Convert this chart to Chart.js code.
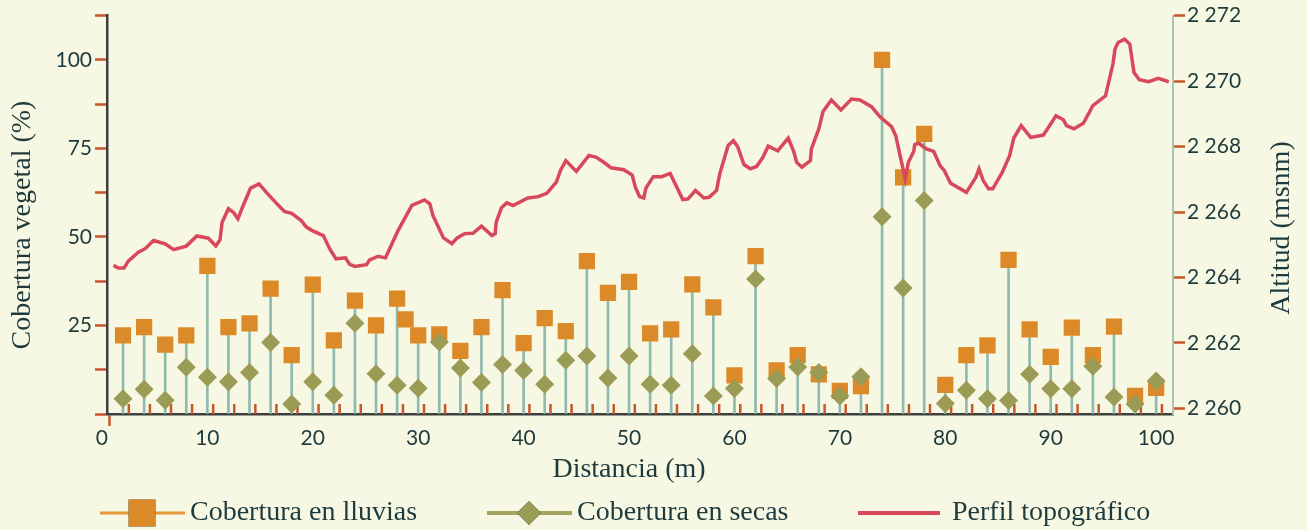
<!DOCTYPE html>
<html lang="es">
<head>
<meta charset="utf-8">
<title>Cobertura vegetal y perfil topográfico</title>
<script src="https://cdn.jsdelivr.net/npm/chart.js@4.4.1/dist/chart.umd.min.js"></script>
<style>
  html, body { margin: 0; padding: 0; background: #f7f8e3; }
  #wrap { width: 1307px; height: 530px; }
</style>
</head>
<body>
<div id="wrap"><canvas id="perfilChart" width="1307" height="530"></canvas></div>
<script>
// distancia (m) de cada punto de muestreo
const distancia = [2, 4, 6, 8, 10, 12, 14, 16, 18, 20, 22, 24, 26, 28, 30, 32, 34, 36, 38, 40,
  42, 44, 46, 48, 50, 52, 54, 56, 58, 60, 62, 64, 66, 68, 70, 72, 74, 76, 78, 80,
  82, 84, 86, 88, 90, 92, 94, 96, 98, 100];

// cobertura vegetal (%)
const coberturaLluvias = [22.2, 24.5, 19.6, 22.2, 41.8, 24.5, 25.6, 35.4, 16.6, 36.5,
  20.8, 32.0, 25.0, 32.6, 22.2, 22.5, 17.8, 24.5, 35.0, 20.0,
  27.1, 23.4, 43.2, 34.2, 37.3, 22.8, 23.9, 36.6, 30.1, 10.9,
  44.6, 12.3, 16.6, 11.2, 6.5, 7.9, 100.0, 66.8, 79.1, 8.2,
  16.6, 19.4, 43.5, 23.9, 16.1, 24.4, 16.6, 24.7, 5.1, 7.4];
const coberturaSecas = [4.3, 7.0, 3.9, 13.2, 10.4, 9.1, 11.7, 20.2, 2.8, 9.1,
  5.3, 25.6, 11.4, 8.1, 7.3, 20.3, 13.0, 8.9, 14.0, 12.3,
  8.4, 15.2, 16.4, 10.2, 16.4, 8.4, 8.1, 17.0, 5.1, 7.2,
  38.1, 10.0, 13.3, 11.7, 5.1, 10.5, 55.7, 35.6, 60.3, 3.0,
  6.7, 4.3, 3.8, 11.2, 7.1, 7.1, 13.5, 4.8, 2.8, 9.3];

// lectura suelta en lluvias, sin tallo
const extraDistancia = [28.8];
const extraLluvias = [26.7];

// perfil topográfico: distancia (m) y altitud (msnm)
const perfilDistancia = [1.1, 1.55, 2.1, 2.5, 3.45, 4.1, 4.9, 6.0, 6.8, 8.0,
  9.0, 10.1, 10.8, 11.2, 11.4, 12.0, 12.5, 12.9, 13.4, 14.1,
  14.9, 15.6, 16.6, 17.3, 18.0, 18.9, 19.4, 19.9, 21.0, 21.6,
  22.2, 23.1, 23.5, 24.0, 25.1, 25.4, 26.2, 26.9, 28.1, 29.4,
  30.6, 31.1, 31.4, 32.4, 33.2, 33.7, 34.4, 35.2, 36.0, 37.0,
  37.3, 37.4, 37.9, 38.4, 39.0, 40.4, 41.4, 42.2, 43.1, 43.5,
  44.0, 45.0, 46.2, 46.9, 47.6, 48.3, 49.5, 50.3, 50.6, 51.0,
  51.4, 51.6, 52.3, 53.1, 53.9, 54.5, 55.1, 55.6, 56.3, 57.1,
  57.6, 58.3, 58.6, 59.4, 59.9, 60.3, 60.9, 61.5, 62.1, 62.7,
  63.2, 64.1, 65.1, 65.6, 65.9, 66.4, 67.2, 67.3, 68.0, 68.4,
  69.2, 70.1, 71.1, 71.9, 73.0, 73.8, 74.9, 75.3, 76.2, 76.5,
  77.0, 77.1, 77.5, 78.2, 78.9, 79.5, 79.9, 80.5, 82.0, 82.9,
  83.2, 83.6, 84.1, 84.5, 85.4, 86.1, 86.5, 87.2, 88.1, 89.3,
  90.5, 91.2, 91.5, 92.2, 93.1, 94.0, 95.2, 95.9, 96.1, 96.4,
  97.0, 97.5, 97.9, 98.4, 99.3, 100.2, 101.2];
const perfilAltitud = [2264.37, 2264.29, 2264.29, 2264.50, 2264.77, 2264.88, 2265.13, 2265.03, 2264.85, 2264.96,
  2265.27, 2265.20, 2264.96, 2265.15, 2265.69, 2266.10, 2265.98, 2265.79, 2266.20, 2266.73,
  2266.86, 2266.60, 2266.25, 2266.02, 2265.96, 2265.74, 2265.54, 2265.44, 2265.28, 2264.88,
  2264.57, 2264.60, 2264.40, 2264.34, 2264.39, 2264.54, 2264.65, 2264.60, 2265.44, 2266.20,
  2266.37, 2266.25, 2265.89, 2265.21, 2265.03, 2265.21, 2265.34, 2265.35, 2265.57, 2265.28,
  2265.34, 2265.69, 2266.13, 2266.28, 2266.20, 2266.43, 2266.47, 2266.57, 2266.91, 2267.27,
  2267.57, 2267.24, 2267.73, 2267.67, 2267.52, 2267.35, 2267.29, 2267.13, 2266.76, 2266.47,
  2266.43, 2266.73, 2267.08, 2267.08, 2267.18, 2266.78, 2266.38, 2266.40, 2266.66, 2266.43,
  2266.45, 2266.66, 2267.16, 2268.03, 2268.18, 2268.00, 2267.45, 2267.32, 2267.39, 2267.67,
  2268.01, 2267.87, 2268.26, 2267.87, 2267.52, 2267.37, 2267.57, 2267.93, 2268.54, 2269.07,
  2269.42, 2269.12, 2269.45, 2269.42, 2269.22, 2268.91, 2268.61, 2268.33, 2267.01, 2267.52,
  2267.85, 2268.06, 2268.10, 2267.93, 2267.85, 2267.42, 2267.27, 2266.88, 2266.60, 2267.06,
  2267.32, 2266.96, 2266.71, 2266.71, 2267.21, 2267.72, 2268.26, 2268.64, 2268.28, 2268.35,
  2268.94, 2268.82, 2268.64, 2268.54, 2268.71, 2269.25, 2269.55, 2270.52, 2270.98, 2271.18,
  2271.28, 2271.13, 2270.26, 2270.04, 2269.98, 2270.08, 2269.98];

// etiquetas de los ejes
const distanciaTicks = [0, 10, 20, 30, 40, 50, 60, 70, 80, 90, 100];
const coberturaTicks = [25, 50, 75, 100];
const altitudTicks = [2260, 2262, 2264, 2266, 2268, 2270, 2272];

const COLORS = {
  texto: '#1e3a3d',
  naranja: '#dc8a28',
  naranjaLinea: '#e8983c',
  oliva: '#9a9b55',
  olivaLinea: '#a4a560',
  rojo: '#d8485a',
  tallo: '#8fbaae',
  marca: '#c6562b',
  ejeOscuro: '#3c3f3d',
  ejeClaro: '#a3c6bb'
};
const tickFont = { family: 'Lato', size: 21 };
const titleFont = '28px "Liberation Serif"';

const xMin = 0.48;
const xMax = 101.6;
// small inner tick marks along the distance axis
const marcasDistancia = [];
for (let d = 2.55; d < 101; d += 2) marcasDistancia.push(d);

const tallos = distancia.map((d, i) => ({ x: d, y: Math.max(coberturaLluvias[i], coberturaSecas[i]) }));
const puntosLluvias = distancia.map((d, i) => ({ x: d, y: coberturaLluvias[i] }))
  .concat(extraDistancia.map((d, i) => ({ x: d, y: extraLluvias[i] })));
const miles = v => String(v).replace(/\B(?=(\d{3})+(?!\d))/g, ' ');

const decoraciones = {
  id: 'decoraciones',
  beforeDatasetsDraw(chart) {
    const { ctx, chartArea, scales: { x } } = chart;
    ctx.save();
    ctx.strokeStyle = COLORS.marca;
    ctx.lineWidth = 2.5;
    marcasDistancia.forEach(v => {
      const px = x.getPixelForValue(v);
      ctx.beginPath();
      ctx.moveTo(px, chartArea.bottom);
      ctx.lineTo(px, chartArea.bottom - 10);
      ctx.stroke();
    });
    ctx.restore();
  },
  afterDraw(chart) {
    const { ctx } = chart;
    ctx.save();
    ctx.fillStyle = COLORS.texto;
    ctx.font = titleFont;
    ctx.textBaseline = 'middle';
    ctx.textAlign = 'center';

    // axis titles
    ctx.fillText('Distancia (m)', 629, 470);
    [['Cobertura vegetal (%)', 23, 225], ['Altitud (msnm)', 1282, 228]].forEach(([t, tx, ty]) => {
      ctx.save();
      ctx.translate(tx, ty);
      ctx.rotate(-Math.PI / 2);
      ctx.fillText(t, 0, 0);
      ctx.restore();
    });

    // legend
    const ly = 513;
    ctx.textAlign = 'left';
    const items = [
      { x: 100, text: 'Cobertura en lluvias', linea: COLORS.naranjaLinea, ancho: 3, marca: 'rect', color: COLORS.naranja },
      { x: 487, text: 'Cobertura en secas', linea: COLORS.olivaLinea, ancho: 4, marca: 'rectRot', color: COLORS.oliva },
      { x: 858, text: 'Perfil topográfico', linea: COLORS.rojo, ancho: 4, marca: null }
    ];
    items.forEach(it => {
      const w = it.marca ? 85 : 82;
      ctx.strokeStyle = it.linea;
      ctx.lineWidth = it.ancho;
      ctx.beginPath();
      ctx.moveTo(it.x, ly);
      ctx.lineTo(it.x + w, ly);
      ctx.stroke();
      if (it.marca) {
        Chart.helpers.drawPoint(ctx, {
          pointStyle: it.marca,
          radius: it.marca === 'rect' ? 19 : 12,
          borderWidth: 0
        }, it.x + 42, ly);
        ctx.fillStyle = it.color;
        ctx.fill();
      }
      ctx.fillStyle = COLORS.texto;
      ctx.fillText(it.text, it.x + (it.marca ? 90 : 94), ly);
    });
    ctx.restore();
  }
};

const ctx = document.getElementById('perfilChart').getContext('2d');

const chart = new Chart(ctx, {
  type: 'line',
  data: {
    datasets: [
      {
        type: 'line',
        label: 'Perfil topográfico',
        data: perfilDistancia.map((d, i) => ({ x: d, y: perfilAltitud[i] })),
        yAxisID: 'yAlt',
        borderColor: COLORS.rojo,
        borderWidth: 3.5,
        pointRadius: 0,
        tension: 0,
        order: 0
      },
      {
        type: 'line',
        label: 'Cobertura en secas',
        data: distancia.map((d, i) => ({ x: d, y: coberturaSecas[i] })),
        yAxisID: 'y',
        showLine: false,
        pointStyle: 'rectRot',
        pointRadius: 9.5,
        pointBackgroundColor: COLORS.oliva,
        pointBorderWidth: 0,
        order: 1
      },
      {
        type: 'line',
        label: 'Cobertura en lluvias',
        data: puntosLluvias,
        yAxisID: 'y',
        showLine: false,
        pointStyle: 'rect',
        pointRadius: 11.5,
        pointBackgroundColor: COLORS.naranja,
        pointBorderWidth: 0,
        order: 2
      },
      {
        type: 'bar',
        label: 'tallos',
        data: tallos,
        yAxisID: 'y',
        backgroundColor: COLORS.tallo,
        barThickness: 2,
        grouped: false,
        order: 3
      }
    ]
  },
  options: {
    responsive: false,
    animation: false,
    devicePixelRatio: 1,
    layout: { padding: { top: 15, left: 0, right: 0, bottom: 0 } },
    plugins: {
      legend: { display: false },
      tooltip: { enabled: false }
    },
    scales: {
      x: {
        type: 'linear',
        min: xMin,
        max: xMax,
        offset: false,
        afterBuildTicks: axis => { axis.ticks = [xMin, ...distanciaTicks].map(v => ({ value: v })); },
        afterFit: s => { s.height = 116; },
        ticks: {
          autoSkip: false,
          maxRotation: 0,
          padding: 0,
          color: COLORS.texto,
          font: tickFont,
          callback: v => (v === xMin ? '' : v)
        },
        grid: {
          drawOnChartArea: false,
          tickLength: 12,
          tickWidth: 2.5,
          tickColor: c => (c.tick && c.tick.value === xMin ? COLORS.marca : 'rgba(0,0,0,0)')
        },
        border: { color: COLORS.ejeOscuro, width: 2.5 }
      },
      y: {
        position: 'left',
        min: 0,
        max: 112.5,
        afterFit: s => { s.width = 107; },
        ticks: {
          stepSize: 12.5,
          padding: 3,
          color: COLORS.texto,
          font: tickFont,
          callback: v => (coberturaTicks.includes(v) ? v : '')
        },
        grid: { drawOnChartArea: false, tickLength: 12, tickWidth: 2.5, tickColor: COLORS.marca },
        border: { color: COLORS.ejeOscuro, width: 2.5 }
      },
      yAlt: {
        position: 'right',
        min: 2259.83,
        max: 2272,
        afterBuildTicks: axis => { axis.ticks = altitudTicks.map(v => ({ value: v })); },
        afterFit: s => { s.width = 134; },
        ticks: {
          padding: 2,
          color: COLORS.texto,
          font: tickFont,
          callback: v => miles(v)
        },
        grid: { drawOnChartArea: false, tickLength: 12, tickWidth: 2.5, tickColor: COLORS.marca },
        border: { color: COLORS.ejeClaro, width: 2 }
      }
    }
  },
  plugins: [decoraciones]
});
</script>
</body>
</html>
